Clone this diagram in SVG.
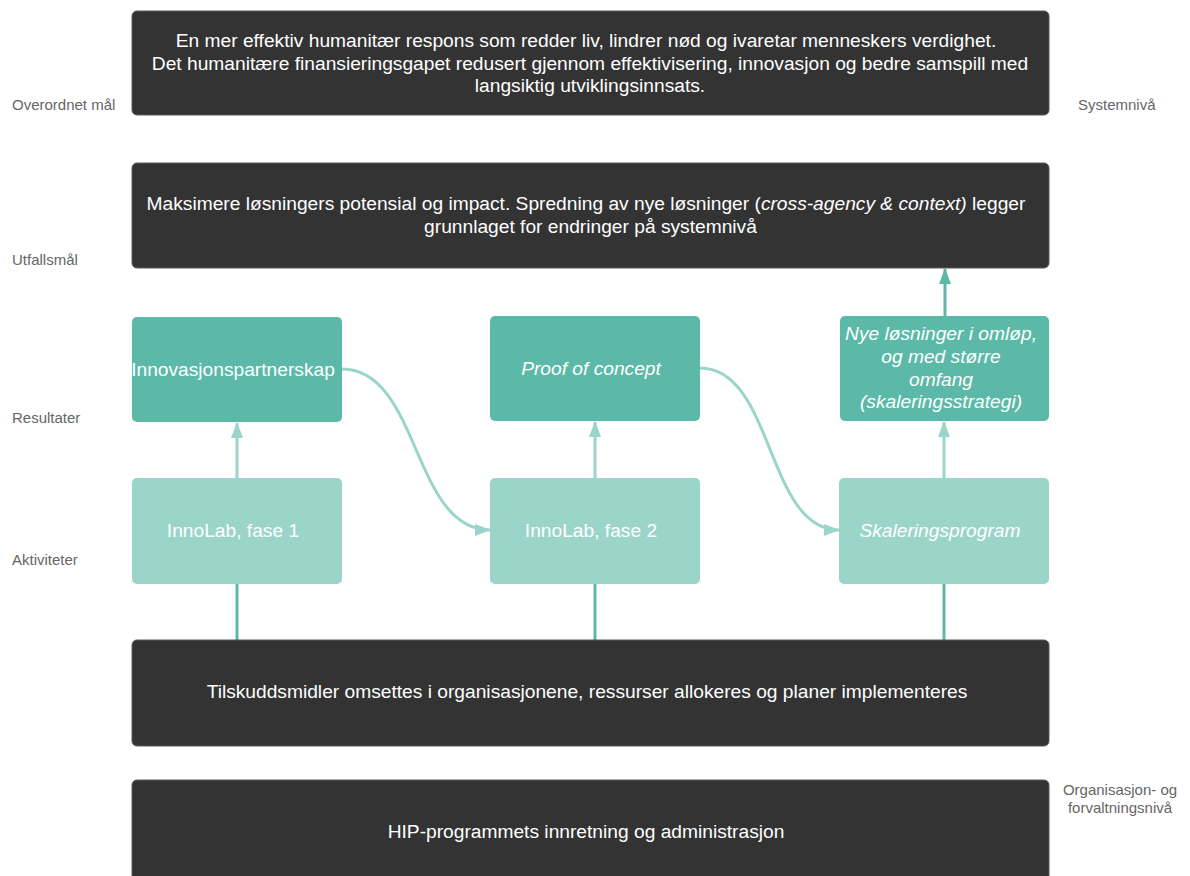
<svg xmlns="http://www.w3.org/2000/svg" width="1190" height="876" viewBox="0 0 1190 876">
<defs>
<style>
.dark{fill:#333333;stroke:#5a5a5a;stroke-width:1}
.res{fill:#5cb9a8}
.act{fill:#9bd5ca}
.t{font-family:"Liberation Sans",Arial,sans-serif;font-size:19.2px;fill:#ffffff;text-anchor:middle}
.i{font-style:italic}
.lbl{font-family:"Liberation Sans",Arial,sans-serif;font-size:15px;fill:#666666}
.cl{fill:none;stroke:#9bd5ca;stroke-width:3}
.cd{fill:none;stroke:#5cb9a8;stroke-width:3}
</style>
<marker id="aL" markerUnits="userSpaceOnUse" markerWidth="16" markerHeight="12" refX="15" refY="6" orient="auto">
<path d="M0,0 L16,6 L0,12 Z" fill="#9bd5ca"/>
</marker>
<marker id="aD" markerUnits="userSpaceOnUse" markerWidth="16" markerHeight="12" refX="15" refY="6" orient="auto">
<path d="M0,0 L16,6 L0,12 Z" fill="#5cb9a8"/>
</marker>
</defs>
<rect width="1190" height="876" fill="#ffffff"/>

<g id="labels">
<text class="lbl" x="12" y="110">Overordnet mål</text>
<text class="lbl" x="12" y="264.5">Utfallsmål</text>
<text class="lbl" x="12" y="423">Resultater</text>
<text class="lbl" x="12" y="564.5">Aktiviteter</text>
<text class="lbl" x="1078" y="110">Systemnivå</text>
<text class="lbl" x="1120" y="795" text-anchor="middle">Organisasjon- og</text>
<text class="lbl" x="1120" y="812.5" text-anchor="middle">forvaltningsnivå</text>
</g>

<g id="connectors">
<line class="cd" x1="237" y1="640" x2="237" y2="584"/>
<line class="cd" x1="595" y1="640" x2="595" y2="584"/>
<line class="cd" x1="944" y1="640" x2="944" y2="584"/>
<line class="cl" x1="237" y1="478" x2="237" y2="423" marker-end="url(#aL)"/>
<line class="cl" x1="595" y1="478" x2="595" y2="422" marker-end="url(#aL)"/>
<line class="cl" x1="944" y1="478" x2="944" y2="422" marker-end="url(#aL)"/>
<line class="cd" x1="945" y1="316" x2="945" y2="269" marker-end="url(#aD)"/>
<path class="cl" d="M342,369 C420,369 412,530 490,530" marker-end="url(#aL)"/>
<path class="cl" d="M700,368 C774,368 766,530 839,530" marker-end="url(#aL)"/>
</g>

<g id="goal">
<rect class="dark" x="132" y="11" width="917" height="104" rx="5"/>
<text class="t" x="586" y="47">En mer effektiv humanitær respons som redder liv, lindrer nød og ivaretar menneskers verdighet.</text>
<text class="t" x="590" y="69.5">Det humanitære finansieringsgapet redusert gjennom effektivisering, innovasjon og bedre samspill med</text>
<text class="t" x="590" y="92">langsiktig utviklingsinnsats.</text>
</g>

<g id="outcome">
<rect class="dark" x="132" y="163" width="917" height="105" rx="5"/>
<text class="t" x="586" y="209.5">Maksimere løsningers potensial og impact. Spredning av nye løsninger (<tspan class="i">cross-agency &amp; context)</tspan> legger</text>
<text class="t" x="590.5" y="233">grunnlaget for endringer på systemnivå</text>
</g>

<g id="res1">
<rect class="res" x="132" y="317" width="210" height="105" rx="5"/>
<text class="t" x="233" y="375.5">Innovasjonspartnerskap</text>
</g>
<g id="res2">
<rect class="res" x="490" y="316" width="210" height="105" rx="5"/>
<text class="t i" x="591" y="374.5">Proof of concept</text>
</g>
<g id="res3">
<rect class="res" x="840" y="316" width="209" height="105" rx="5"/>
<text class="t i" x="941" y="339.5">Nye løsninger i omløp,</text>
<text class="t i" x="941" y="362.5">og med større</text>
<text class="t i" x="941" y="385.5">omfang</text>
<text class="t i" x="941" y="408">(skaleringsstrategi)</text>
</g>

<g id="act1">
<rect class="act" x="132" y="478" width="210" height="106" rx="5"/>
<text class="t" x="233" y="537">InnoLab, fase 1</text>
</g>
<g id="act2">
<rect class="act" x="490" y="478" width="210" height="106" rx="5"/>
<text class="t" x="591" y="537">InnoLab, fase 2</text>
</g>
<g id="act3">
<rect class="act" x="839" y="478" width="210" height="106" rx="5"/>
<text class="t i" x="940" y="537">Skaleringsprogram</text>
</g>

<g id="funds">
<rect class="dark" x="132" y="640" width="917" height="106" rx="5"/>
<text class="t" x="587" y="698">Tilskuddsmidler omsettes i organisasjonene, ressurser allokeres og planer implementeres</text>
</g>

<g id="hip">
<rect class="dark" x="132" y="780" width="917" height="110" rx="5"/>
<text class="t" x="586" y="838">HIP-programmets innretning og administrasjon</text>
</g>
</svg>
